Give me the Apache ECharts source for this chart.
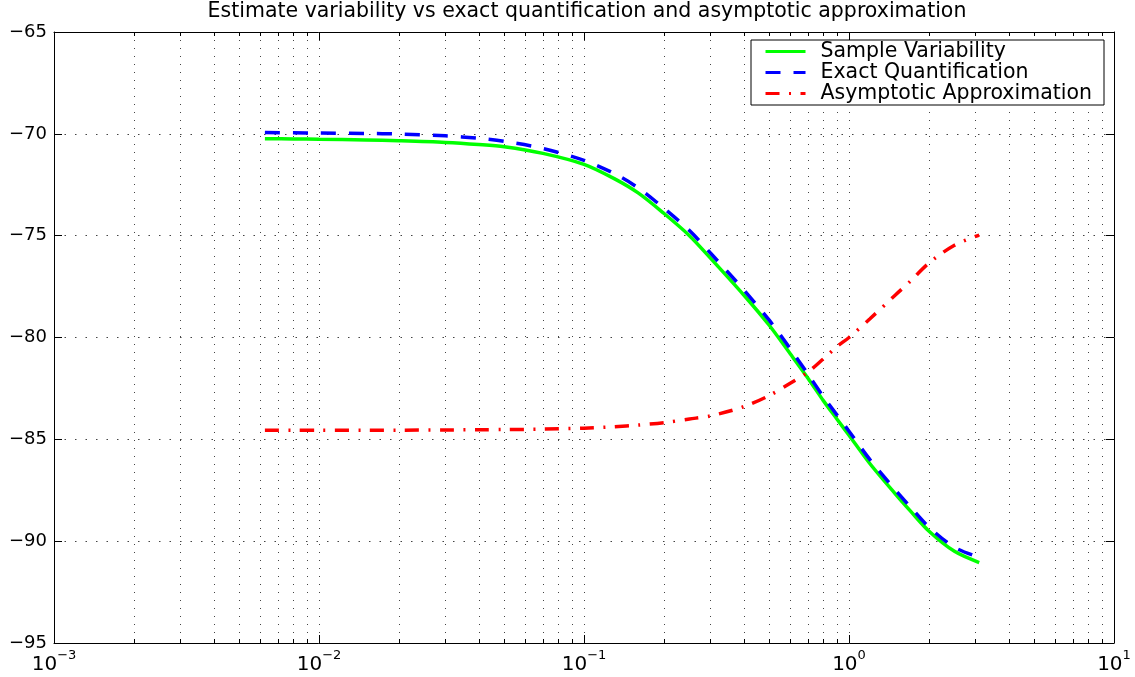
<!DOCTYPE html>
<html>
<head>
<meta charset="utf-8">
<script src="https://cdn.jsdelivr.net/npm/echarts@6/dist/echarts.min.js"></script>
<style>
html,body{margin:0;padding:0;background:#fff;}
#chart{width:1135px;height:677px;}
</style>
</head>
<body>
<div id="chart"></div>
<script>
// ---- data ----
const titleText = 'Estimate variability vs exact quantification and asymptotic approximation';
const seriesNames = ['Sample Variability', 'Exact Quantification', 'Asymptotic Approximation'];
const xValues = [0.00625, 0.008, 0.01, 0.015, 0.02, 0.03, 0.04, 0.05, 0.07, 0.1, 0.13, 0.16, 0.2, 0.25, 0.3, 0.4, 0.5, 0.6, 0.7, 0.8, 0.9, 1.0, 1.2, 1.5, 1.7, 2.0, 2.5, 3.1];
const sampleVariability = [-70.24, -70.25, -70.27, -70.30, -70.34, -70.42, -70.52, -70.63, -70.96, -71.5, -72.2, -72.9, -73.9, -75.0, -76.1, -77.9, -79.4, -80.8, -82.0, -83.1, -84.0, -84.8, -86.2, -87.7, -88.5, -89.5, -90.5, -91.05];
const exactQuantification = [-69.94, -69.95, -69.96, -69.98, -70.01, -70.1, -70.22, -70.37, -70.72, -71.3, -71.95, -72.65, -73.65, -74.75, -75.85, -77.65, -79.15, -80.55, -81.8, -82.9, -83.8, -84.6, -86.0, -87.5, -88.3, -89.3, -90.3, -90.8];
const asymptoticApprox = [-84.55, -84.55, -84.55, -84.55, -84.55, -84.54, -84.53, -84.52, -84.5, -84.45, -84.38, -84.3, -84.18, -84.0, -83.85, -83.4, -82.85, -82.25, -81.7, -81.05, -80.45, -80.0, -79.08, -77.9, -77.25, -76.35, -75.47, -74.97];
const xMin = 0.001, xMax = 10;
const yMin = -95, yMax = -65, yStep = 5;
const minorMantissas = [2, 3, 4, 5, 6, 7, 8, 9];
const minorDecades = [-3, -2, -1, 0];

// ---- derived ----
const minorTicks = [];
minorDecades.forEach(function (d) {
  minorMantissas.forEach(function (m) { minorTicks.push([m * Math.pow(10, d), yMin]); });
});
function pairs(ys) { return xValues.map(function (x, i) { return [x, ys[i]]; }); }

const FONT = 'DejaVu Sans';
const chart = echarts.init(document.getElementById('chart'));

function expLabel(v) {
  const e = Math.round(Math.log10(v));
  const es = e < 0 ? '\u2212' + (-e) : String(e);
  return '{b|10}{e|' + es + '}';
}

const option = {
  backgroundColor: '#fff',
  animation: false,
  title: {
    text: titleText,
    left: 587,
    textAlign: 'center',
    top: 1,
    padding: 0,
    textStyle: { fontFamily: FONT, fontSize: 20.5, fontWeight: 'normal', color: '#000' }
  },
  legend: {
    data: seriesNames,
    orient: 'vertical',
    right: 31,
    top: 40,
    itemWidth: 40,
    itemHeight: 14,
    itemGap: 0,
    padding: [1, 12, 1, 13],
    borderColor: '#000',
    borderWidth: 1,
    backgroundColor: '#fff',
    itemStyle: { opacity: 0 },
    lineStyle: { width: 3 },
    textStyle: { fontFamily: FONT, fontSize: 20.5, color: '#000', padding: [0, 0, 0, 10], lineHeight: 21 }
  },
  grid: { left: 54, right: 21, top: 32, bottom: 34, containLabel: false },
  xAxis: [
    {
      type: 'log', logBase: 10, min: xMin, max: xMax, position: 'bottom',
      axisLine: { show: true, lineStyle: { color: '#000', width: 1 } },
      axisTick: { show: true, inside: true, length: 8, lineStyle: { color: '#000' } },
      axisLabel: {
        margin: 6,
        formatter: expLabel,
        rich: {
          b: { fontFamily: FONT, fontSize: 20, color: '#000', lineHeight: 26, verticalAlign: 'bottom' },
          e: { fontFamily: FONT, fontSize: 13, color: '#000', lineHeight: 13, verticalAlign: 'top' }
        }
      },
      splitLine: { show: true, lineStyle: { color: '#444', width: 1, type: [1, 7] } }
    },
    {
      type: 'log', logBase: 10, min: xMin, max: xMax, position: 'top',
      axisLine: { show: true, lineStyle: { color: '#000', width: 1 } },
      axisTick: { show: true, inside: true, length: 8, lineStyle: { color: '#000' } },
      axisLabel: { show: false },
      splitLine: { show: false }
    }
  ],
  yAxis: [
    {
      type: 'value', min: yMin, max: yMax, interval: yStep, position: 'left',
      axisLine: { show: true, lineStyle: { color: '#000', width: 1 } },
      axisTick: { show: true, inside: true, length: 8, lineStyle: { color: '#000' } },
      axisLabel: {
        margin: 7, fontFamily: FONT, fontSize: 18, color: '#000',
        formatter: function (v) { return String(v).replace('-', '\u2212'); }
      },
      splitLine: { show: true, lineStyle: { color: '#444', width: 1, type: [1.5, 9] } }
    },
    {
      type: 'value', min: yMin, max: yMax, interval: yStep, position: 'right',
      axisLine: { show: true, lineStyle: { color: '#000', width: 1 } },
      axisTick: { show: true, inside: true, length: 8, lineStyle: { color: '#000' } },
      axisLabel: { show: false },
      splitLine: { show: false }
    }
  ],
  series: [
    {
      name: 'minorGrid',
      type: 'custom',
      xAxisIndex: 0, yAxisIndex: 0,
      silent: true,
      z: 1,
      data: minorTicks,
      encode: { x: 0, y: 1 },
      renderItem: function (params, api) {
        const v = api.value(0);
        const top = api.coord([v, yMax]);
        const bot = api.coord([v, yMin]);
        const x = Math.round(top[0]) + 0.5;
        return {
          type: 'group',
          children: [
            { type: 'line', shape: { x1: x, y1: top[1], x2: x, y2: bot[1] }, style: { stroke: '#444', lineWidth: 1, lineDash: [1, 7] } },
            { type: 'line', shape: { x1: x, y1: bot[1], x2: x, y2: bot[1] - 4 }, style: { stroke: '#000', lineWidth: 1 } },
            { type: 'line', shape: { x1: x, y1: top[1], x2: x, y2: top[1] + 4 }, style: { stroke: '#000', lineWidth: 1 } }
          ]
        };
      }
    },
    {
      name: seriesNames[0], type: 'line', data: pairs(sampleVariability),
      symbol: 'none', smooth: 0.3, z: 3,
      lineStyle: { color: '#00ff00', width: 3.5, type: 'solid' },
      itemStyle: { color: '#00ff00' }
    },
    {
      name: seriesNames[1], type: 'line', data: pairs(exactQuantification),
      symbol: 'none', smooth: 0.3, z: 4,
      lineStyle: { color: '#0000ff', width: 3.5, type: [15, 13] },
      itemStyle: { color: '#0000ff' }
    },
    {
      name: seriesNames[2], type: 'line', data: pairs(asymptoticApprox),
      symbol: 'none', smooth: 0.3, z: 3,
      lineStyle: { color: '#ff0000', width: 3.5, type: [14, 9.5, 2, 9.5] },
      itemStyle: { color: '#ff0000' }
    }
  ]
};
chart.setOption(option);
</script>
</body>
</html>
